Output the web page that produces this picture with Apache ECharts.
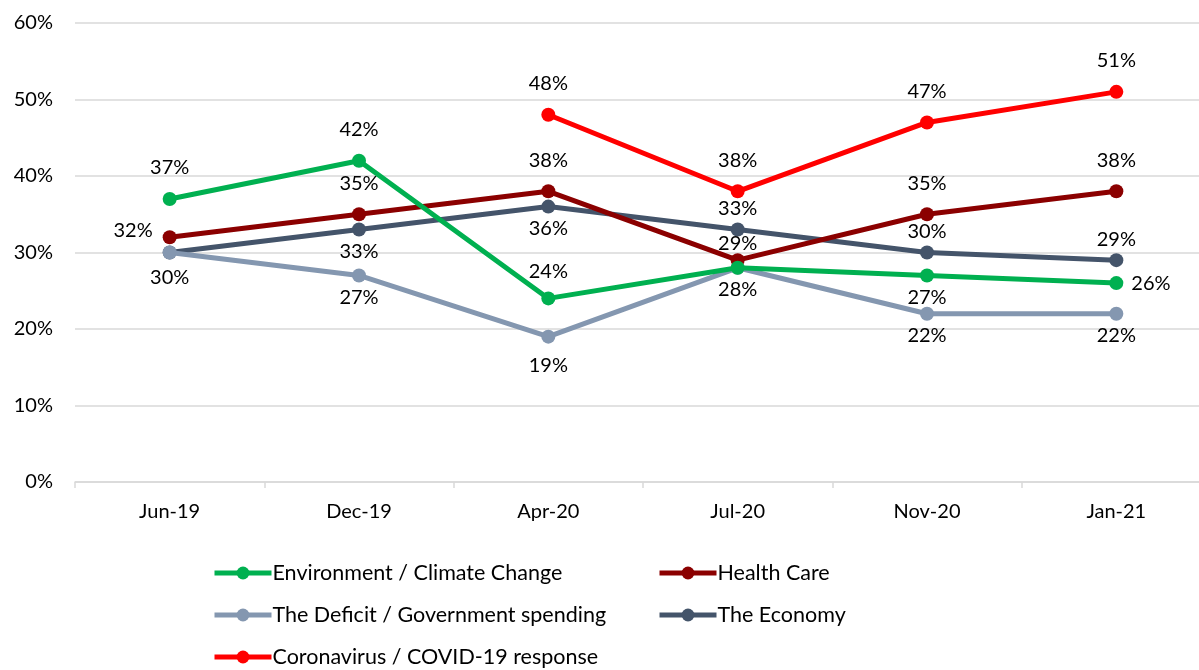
<!DOCTYPE html>
<html>
<head>
<meta charset="utf-8">
<script src="https://cdn.jsdelivr.net/npm/echarts@6/dist/echarts.min.js"></script>
<style>
html,body{margin:0;padding:0;background:#fff;overflow:hidden;width:1199px;height:670px;}
#main{width:1216px;height:670px;}
</style>
</head>
<body>
<div id="main"></div>
<script>
// ---- data ----
const categories = ['Jun-19','Dec-19','Apr-20','Jul-20','Nov-20','Jan-21'];
const yTicks = [0,10,20,30,40,50,60];
const seriesNames = ['Environment / Climate Change','Health Care','The Deficit / Government spending','The Economy','Coronavirus / COVID-19 response'];
const environment = [37,42,24,28,27,26];
const healthCare = [32,35,38,29,35,38];
const deficit = [30,27,19,28,22,22];
const economy = [30,33,36,33,30,29];
const covid = [null,null,48,38,47,51];

// ---- label placement (style) ----
const colors = ['#00B050','#8B0000','#8497B0','#44546A','#FF0000'];
const A = {position:'top',distance:14};
const B = {position:'bottom',distance:5};
const labelCfg = [
  [A,A,{position:'top',distance:10},{show:false},B,{position:'right',distance:8}],
  [{position:'left',distance:10,offset:[0,-7]},A,A,{position:'top',distance:0},A,A],
  [{show:false},B,{position:'bottom',distance:12},B,B,B],
  [{position:'bottom',distance:8},B,B,{position:'top',distance:4},{position:'top',distance:4},{position:'top',distance:4}],
  [A,A,A,A,A,A]
];
const allData = [environment,healthCare,deficit,economy,covid];

const FONT = 'Lato';
const series = allData.map((vals,i)=>({
  name: seriesNames[i],
  type:'line',
  symbol:'circle',
  symbolSize:14,
  connectNulls:false,
  lineStyle:{width:5,color:colors[i]},
  itemStyle:{color:colors[i]},
  z: 10-i,
  data: vals.map((v,j)=>({
    value:v,
    label: Object.assign({show: v!==null}, labelCfg[i][j])
  })),
  label:{
    show:true,
    formatter: p => p.value + '%',
    color:'#000',
    fontFamily:FONT,
    fontSize:20
  }
}));

const legendPos = [[212,562],[657,562],[212,604],[657,604],[212,646]];
const legends = seriesNames.map((n,i)=>({
  data:[n],
  left:legendPos[i][0],
  top:legendPos[i][1],
  padding:0,
  itemWidth:57,
  itemHeight:16,
  lineStyle:{width:5},
  textStyle:{fontFamily:FONT,fontSize:21.5,color:'#000',padding:[0,0,0,-4]},
  selectedMode:false
}));

const chart = echarts.init(document.getElementById('main'));
chart.setOption({
  animation:false,
  backgroundColor:'#fff',
  grid:{left:75,right:5,top:23,bottom:188,containLabel:false},
  legend:legends,
  xAxis:{
    type:'category',
    data:categories,
    boundaryGap:true,
    axisLine:{lineStyle:{color:'#D9D9D9',width:1.5}},
    axisTick:{show:true,length:6,lineStyle:{color:'#D9D9D9',width:1.5}},
    axisLabel:{color:'#000',fontFamily:FONT,fontSize:20,margin:20}
  },
  yAxis:{
    type:'value',
    min:yTicks[0],
    max:yTicks[yTicks.length-1],
    interval:10,
    axisLine:{show:false},
    axisTick:{show:false},
    splitLine:{lineStyle:{color:'#D9D9D9',width:1.5}},
    axisLabel:{color:'#000',fontFamily:FONT,fontSize:20,margin:22,formatter:'{value}%'}
  },
  series:series
});
</script>
</body>
</html>
